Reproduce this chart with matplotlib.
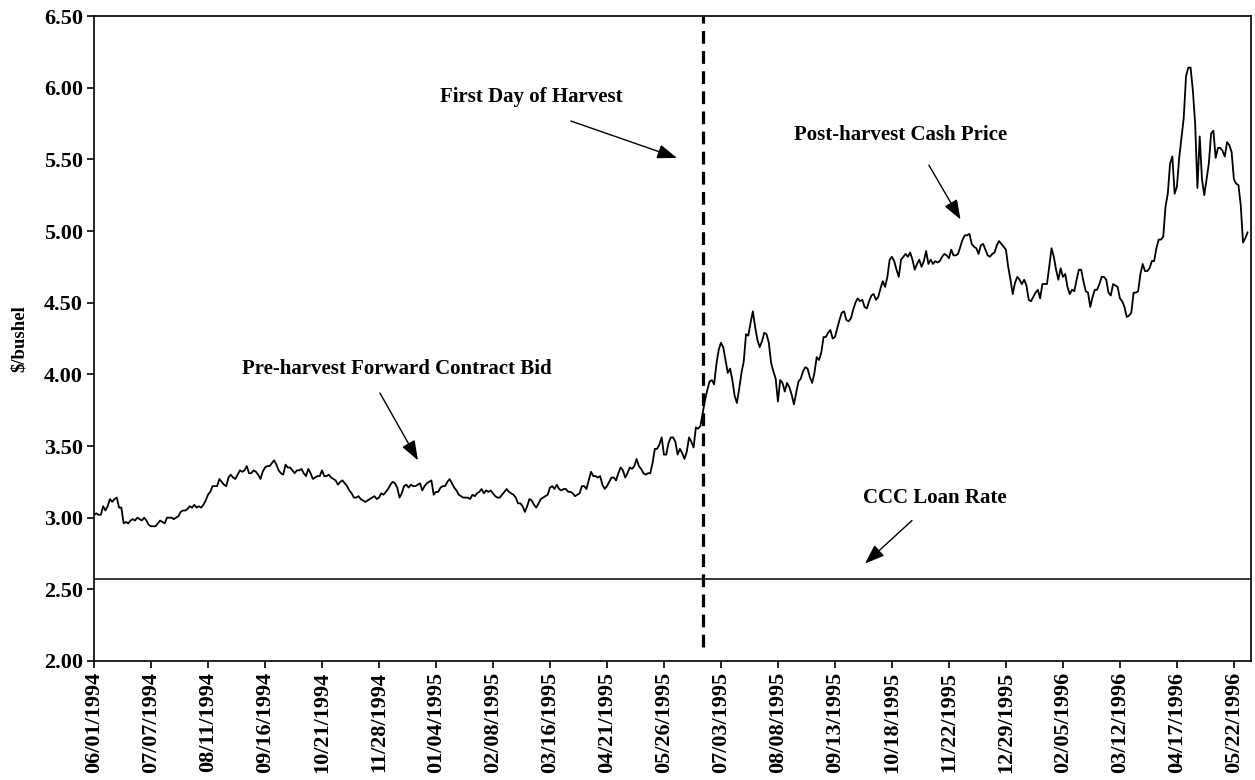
import matplotlib
matplotlib.use("Agg")
import matplotlib.pyplot as plt
from matplotlib.ticker import FormatStrFormatter

plt.rcParams['font.family'] = ['Liberation Serif', 'DejaVu Serif']

# one value per trading day starting 06/01/1994, $/bushel
pre_harvest_bid = [
    3.02, 3.03, 3.02, 3.02, 3.08, 3.05, 3.08, 3.13, 3.11, 3.13,
    3.14, 3.07, 3.07, 2.96, 2.97, 2.96, 2.98, 2.99, 2.98, 3.00,
    2.99, 2.98, 3.00, 2.98, 2.95, 2.94, 2.94, 2.94, 2.96, 2.98,
    2.97, 2.96, 3.00, 3.00, 3.00, 2.99, 3.00, 3.01, 3.04, 3.05,
    3.05, 3.06, 3.08, 3.07, 3.09, 3.07, 3.08, 3.07, 3.09, 3.12,
    3.16, 3.18, 3.22, 3.22, 3.22, 3.27, 3.25, 3.23, 3.22, 3.28,
    3.30, 3.28, 3.27, 3.30, 3.33, 3.32, 3.33, 3.36, 3.31, 3.31,
    3.33, 3.32, 3.30, 3.27, 3.32, 3.35, 3.36, 3.36, 3.38, 3.40,
    3.37, 3.33, 3.31, 3.30, 3.37, 3.35, 3.35, 3.33, 3.31, 3.33,
    3.33, 3.34, 3.31, 3.29, 3.34, 3.31, 3.27, 3.28, 3.29, 3.29,
    3.33, 3.29, 3.29, 3.30,
    3.28, 3.27, 3.26, 3.23, 3.25, 3.26, 3.24, 3.22, 3.19, 3.17,
    3.14, 3.14, 3.15, 3.13, 3.12, 3.11, 3.12, 3.13, 3.14, 3.15,
    3.13, 3.14, 3.17, 3.16, 3.18, 3.20, 3.23, 3.25, 3.24, 3.21,
    3.14, 3.17, 3.22, 3.23, 3.21, 3.23, 3.22, 3.22, 3.23, 3.24,
    3.19, 3.22, 3.24, 3.25, 3.26, 3.16, 3.18, 3.18, 3.21, 3.22,
    3.22, 3.25, 3.27, 3.24, 3.21, 3.19, 3.16, 3.15, 3.14, 3.14,
    3.14, 3.13, 3.16, 3.15, 3.17, 3.18, 3.20, 3.17, 3.19, 3.18,
    3.19, 3.17, 3.15, 3.14, 3.14, 3.16, 3.18, 3.20, 3.18, 3.17,
    3.16, 3.14, 3.10, 3.10, 3.08, 3.04, 3.08, 3.13, 3.12, 3.09,
    3.07, 3.10, 3.13, 3.14, 3.15, 3.16, 3.21, 3.22, 3.20, 3.23,
    3.20, 3.19,
    3.20, 3.20, 3.18, 3.18, 3.17, 3.15, 3.16, 3.17, 3.22, 3.22,
    3.20, 3.26, 3.32, 3.29, 3.29, 3.28, 3.29, 3.23, 3.20, 3.22,
    3.25, 3.28, 3.28, 3.26, 3.31, 3.35, 3.33, 3.28, 3.31, 3.35,
    3.34, 3.36, 3.41, 3.36, 3.34, 3.31, 3.30, 3.31, 3.31, 3.38,
    3.48, 3.48, 3.51, 3.56, 3.44, 3.44, 3.52, 3.56, 3.56, 3.53,
    3.44, 3.48, 3.45, 3.41, 3.46, 3.56, 3.53, 3.49, 3.63, 3.62,
    3.64, 3.73,
]

post_harvest_cash = [
    3.82, 3.89, 3.95, 3.96, 3.93, 4.07, 4.17, 4.22, 4.19, 4.10,
    4.01, 4.04, 3.96, 3.85, 3.80, 3.90, 4.01, 4.09, 4.28, 4.27,
    4.36, 4.44, 4.33, 4.24, 4.19, 4.23, 4.29, 4.28, 4.22, 4.08,
    4.02, 3.97, 3.81, 3.96, 3.94, 3.88, 3.94, 3.91, 3.86, 3.79,
    3.87, 3.95,
    3.97, 4.02, 4.05, 4.04, 3.98, 3.94, 4.01, 4.12, 4.10, 4.15,
    4.26, 4.26, 4.29, 4.31, 4.25, 4.26, 4.32, 4.38, 4.43, 4.44,
    4.38, 4.37, 4.39, 4.45, 4.50, 4.53, 4.51, 4.52, 4.47, 4.46,
    4.51, 4.55, 4.56, 4.52, 4.54, 4.60, 4.65, 4.61, 4.68, 4.80,
    4.82, 4.79, 4.73, 4.68, 4.80, 4.82, 4.84, 4.82, 4.85, 4.80,
    4.73, 4.77, 4.80, 4.75, 4.79, 4.86, 4.77, 4.80, 4.77, 4.79,
    4.78, 4.79, 4.82, 4.84, 4.83, 4.81, 4.87, 4.83, 4.83, 4.84,
    4.89, 4.94, 4.97, 4.97, 4.98, 4.91, 4.89, 4.88, 4.84, 4.90,
    4.91, 4.87, 4.83, 4.82, 4.84, 4.85, 4.90, 4.93, 4.91, 4.89,
    4.87, 4.75, 4.66, 4.56, 4.64, 4.68, 4.66, 4.63, 4.66, 4.62,
    4.52, 4.51, 4.54,
    4.57, 4.59, 4.53, 4.63, 4.63, 4.63, 4.75, 4.88, 4.82, 4.73,
    4.66, 4.74, 4.68, 4.70, 4.61, 4.56, 4.59, 4.58, 4.66, 4.73,
    4.73, 4.65, 4.58, 4.57, 4.47, 4.54, 4.59, 4.59, 4.63, 4.68,
    4.68, 4.66, 4.57, 4.55, 4.63, 4.62, 4.61, 4.53, 4.51, 4.47,
    4.40, 4.41, 4.43, 4.57, 4.57, 4.58, 4.70, 4.77, 4.72, 4.72,
    4.74, 4.79, 4.79, 4.88, 4.94, 4.94, 4.96, 5.17, 5.26, 5.47,
    5.52, 5.26, 5.31, 5.51, 5.65, 5.79, 6.08, 6.14, 6.14, 5.98,
    5.75, 5.30, 5.66, 5.36, 5.25, 5.36, 5.47, 5.68, 5.70, 5.51,
    5.58, 5.58, 5.56, 5.52, 5.62, 5.60, 5.55, 5.36, 5.33, 5.32,
    5.18, 4.92, 4.95, 4.99,
]

date_labels = [
    "06/01/1994", "07/07/1994", "08/11/1994", "09/16/1994", "10/21/1994",
    "11/28/1994", "01/04/1995", "02/08/1995", "03/16/1995", "04/21/1995",
    "05/26/1995", "07/03/1995", "08/08/1995", "09/13/1995", "10/18/1995",
    "11/22/1995", "12/29/1995", "02/05/1996", "03/12/1996", "04/17/1996",
    "05/22/1996",
]
label_step = 25  # trading days between labels

loan_rate = 2.57
harvest_day = len(pre_harvest_bid) - 1

price = pre_harvest_bid + post_harvest_cash
days = list(range(len(price)))

fig = plt.figure(figsize=(12.55, 7.8), dpi=100)
ax = fig.add_axes([94 / 1255, 1 - 661 / 780, 1157 / 1255, 645 / 780])

ax.plot(days, price, color="black", lw=1.3)
ax.axhline(loan_rate, color="black", lw=1.1)
ax.plot([harvest_day, harvest_day], [2.10, 6.50], color="black", lw=2.3,
        linestyle=(0, (4, 2.3)))

ax.set_ylim(2.0, 6.5)
ax.set_yticks([2.0, 2.5, 3.0, 3.5, 4.0, 4.5, 5.0, 5.5, 6.0, 6.5])
ax.yaxis.set_major_formatter(FormatStrFormatter("%.2f"))
ax.set_xlim(0, len(price) + 0.5)
ax.set_xticks([i * label_step for i in range(len(date_labels))])
ax.set_xticklabels(date_labels, rotation=90)

for lab in ax.get_xticklabels() + ax.get_yticklabels():
    lab.set_fontweight("bold")
    lab.set_fontsize(16)
ax.tick_params(direction="out", length=5, width=1.2, color="black", pad=3)
for sp in ax.spines.values():
    sp.set_linewidth(1.2)

ax.set_ylabel("$/bushel", fontsize=13.5, fontweight="bold")
ax.yaxis.set_label_coords(-0.057, 0.5)

notes = [
    ("First Day of Harvest", (191.7, 5.935), (209.2, 5.767), (255.7, 5.51)),
    ("Post-harvest Cash Price", (353.9, 5.67), (366.2, 5.46), (380.1, 5.08)),
    ("Pre-harvest Forward Contract Bid", (132.7, 4.04), (125.4, 3.87), (142.1, 3.40)),
    ("CCC Loan Rate", (369.0, 3.14), (358.8, 2.98), (338.2, 2.68)),
]
for text, pos, tail, head in notes:
    ax.text(pos[0], pos[1], text, ha="center", va="center",
            fontsize=15, fontweight="bold")
    ax.annotate("", xy=head, xytext=tail,
                arrowprops=dict(arrowstyle="-|>,head_length=0.6,head_width=0.22",
                                color="black", lw=1.0, mutation_scale=20,
                                shrinkA=0, shrinkB=0))

fig.savefig("out.png", dpi=100)
